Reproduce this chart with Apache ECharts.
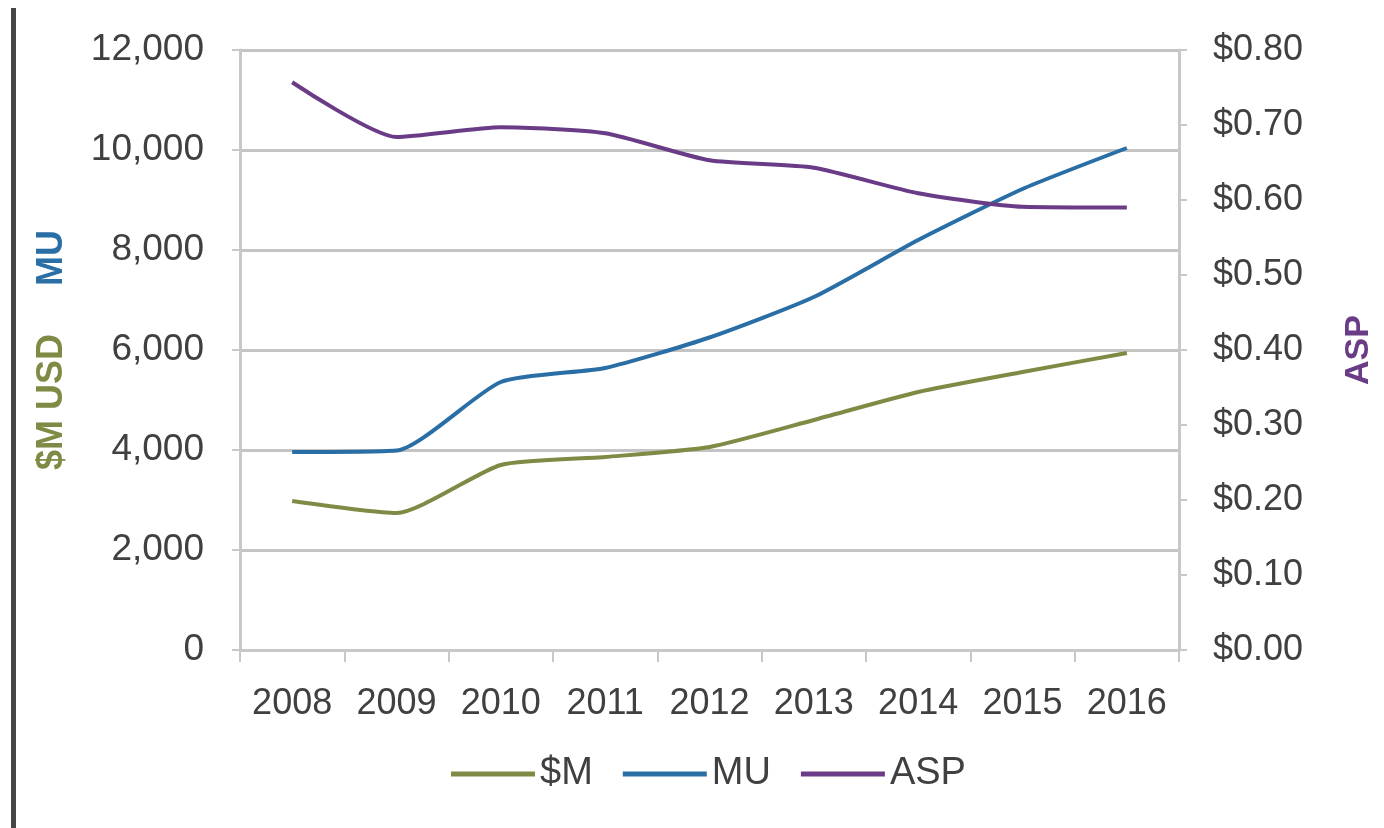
<!DOCTYPE html>
<html>
<head>
<meta charset="utf-8">
<script src="https://cdn.jsdelivr.net/npm/echarts@6/dist/echarts.min.js"></script>
<style>html,body{margin:0;padding:0;background:#fff;}#c{width:1384px;height:828px;}</style>
</head>
<body>
<div id="c"></div>
<script>
const years = ['2008','2009','2010','2011','2012','2013','2014','2015','2016'];
const revenueM = [2980, 2740, 3700, 3860, 4060, 4600, 5160, 5560, 5940];
const unitsMU = [3960, 3990, 5360, 5640, 6250, 7060, 8200, 9220, 10040];
const asp = [0.757, 0.684, 0.697, 0.689, 0.653, 0.643, 0.609, 0.591, 0.590];
const leftTicks = {min: 0, max: 12000, interval: 2000};
const rightTicks = {min: 0, max: 0.8, interval: 0.1};

const OLIVE = '#7f8a45', BLUE = '#2a6ea6', PURPLE = '#6a3b86';
const FONT = 'Liberation Sans';
const chart = echarts.init(document.getElementById('c'));
chart.setOption({
  backgroundColor: '#fff',
  animation: false,
  textStyle: {fontFamily: FONT},
  grid: {left: 240, right: 202, top: 50, bottom: 178},
  legend: {
    left: 446, top: 750,
    itemWidth: 84, itemHeight: 5, itemGap: 30, icon: 'rect',
    textStyle: {fontFamily: FONT, fontSize: 38, color: '#404040'},
    data: ['$M', 'MU', 'ASP']
  },
  xAxis: {
    type: 'category', data: years, boundaryGap: true,
    axisLine: {lineStyle: {color: '#c8c8c8', width: 3}},
    axisTick: {show: true, interval: 0, length: 12, lineStyle: {color: '#c8c8c8', width: 2}},
    axisLabel: {interval: 0, fontFamily: FONT, fontSize: 36, color: '#404040', margin: 36}
  },
  yAxis: [{
    type: 'value', min: leftTicks.min, max: leftTicks.max, interval: leftTicks.interval,
    position: 'left',
    name: '{a|$M USD}{g|}{b|MU}',
    nameLocation: 'middle', nameRotate: 90, nameGap: 170,
    nameTextStyle: {rich: {
      a: {fontFamily: FONT, fontSize: 36, fontWeight: 'bold', color: OLIVE},
      g: {width: 48, fontSize: 36},
      b: {fontFamily: FONT, fontSize: 36, fontWeight: 'bold', color: BLUE}
    }},
    axisLine: {show: true, lineStyle: {color: '#c8c8c8', width: 3}},
    axisTick: {show: true, length: 8, lineStyle: {color: '#c8c8c8', width: 2}},
    splitLine: {show: true, lineStyle: {color: '#c4c4c4', width: 3}},
    axisLabel: {fontFamily: FONT, fontSize: 37, color: '#404040', margin: 36,
      formatter: v => v.toLocaleString('en-US')}
  }, {
    type: 'value', min: rightTicks.min, max: rightTicks.max, interval: rightTicks.interval,
    position: 'right',
    name: 'ASP', nameLocation: 'middle', nameRotate: 90, nameGap: 163,
    nameTextStyle: {fontFamily: FONT, fontSize: 34, fontWeight: 'bold', color: PURPLE},
    axisLine: {show: true, lineStyle: {color: '#c8c8c8', width: 3}},
    axisTick: {show: true, length: 8, lineStyle: {color: '#c8c8c8', width: 2}},
    splitLine: {show: false},
    axisLabel: {fontFamily: FONT, fontSize: 36, color: '#404040', margin: 34,
      formatter: v => '$' + v.toFixed(2)}
  }],
  series: [
    {name: '$M', type: 'line', yAxisIndex: 0, data: revenueM, smooth: 0.2, symbol: 'none',
     lineStyle: {color: OLIVE, width: 4}, itemStyle: {color: OLIVE}},
    {name: 'MU', type: 'line', yAxisIndex: 0, data: unitsMU, smooth: 0.2, symbol: 'none',
     lineStyle: {color: BLUE, width: 4}, itemStyle: {color: BLUE}},
    {name: 'ASP', type: 'line', yAxisIndex: 1, data: asp, smooth: 0.2, symbol: 'none',
     lineStyle: {color: PURPLE, width: 4}, itemStyle: {color: PURPLE}}
  ],
  graphic: [
    {type: 'rect', shape: {x: 11, y: 8, width: 5, height: 820}, style: {fill: '#454545'}, silent: true}
  ]
});
</script>
</body>
</html>
